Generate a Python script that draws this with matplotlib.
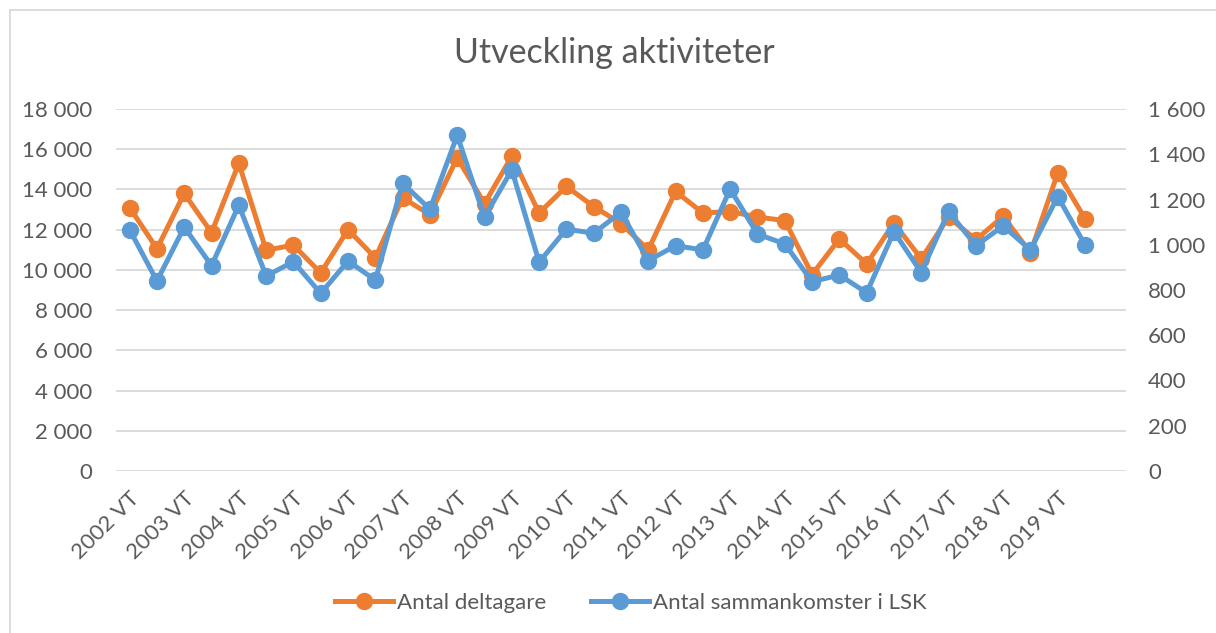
import matplotlib.pyplot as plt
from matplotlib.lines import Line2D
from matplotlib.ticker import FuncFormatter, MultipleLocator

plt.rcParams['font.family'] = ['Lato', 'DejaVu Sans']

years = list(range(2002, 2020))
terms = []
for y in years:
    terms.append(f"{y} VT")
    terms.append(f"{y} HT")

# Antal deltagare (vänster axel)
deltagare = [13100, 11050, 13800, 11850, 15300, 10980, 11230, 9850, 12000, 10600,
             13580, 12750, 15570, 13300, 15650, 12830, 14150, 13150, 12300, 11000,
             13900, 12830, 12900, 12630, 12450, 9770, 11540, 10300, 12330, 10550,
             12630, 11500, 12660, 10850, 14820, 12550]

# Antal sammankomster i LSK (höger axel)
sammankomster = [1066, 840, 1078, 908, 1175, 862, 925, 785, 928, 844,
                 1272, 1157, 1483, 1122, 1331, 923, 1069, 1051, 1144, 930,
                 996, 977, 1246, 1047, 1004, 837, 866, 788, 1058, 877,
                 1147, 996, 1083, 977, 1213, 999]

orange = '#ED7D31'
blue = '#5B9BD5'
textc = '#595959'
gridc = '#D9D9D9'

fig = plt.figure(figsize=(12.16, 6.33), dpi=100)
ax = fig.add_axes([116 / 1216, 1 - 471 / 633, 1010 / 1216, 362 / 633])
ax2 = ax.twinx()

x = range(len(terms))
l1, = ax.plot(x, deltagare, color=orange, lw=3.6, marker='o', ms=11.5,
              label='Antal deltagare', solid_joinstyle='round')
l2, = ax2.plot(x, sammankomster, color=blue, lw=3.6, marker='o', ms=11.5,
               label='Antal sammankomster i LSK', solid_joinstyle='round')

ax.set_xlim(-0.5, len(terms) + 0.5)
ax.set_ylim(0, 18000)
ax2.set_ylim(0, 1600)
ax.yaxis.set_major_locator(MultipleLocator(2000))
ax2.yaxis.set_major_locator(MultipleLocator(200))

fmt = FuncFormatter(lambda v, p: f"{int(v):,}".replace(",", " "))
ax.yaxis.set_major_formatter(fmt)
ax2.yaxis.set_major_formatter(fmt)

ax.set_xticks(list(x)[::2])
ax.set_xticklabels(terms[::2], rotation=45, ha='right', rotation_mode='anchor')

ax.grid(axis='y', color=gridc, lw=1.3)
ax.set_axisbelow(True)
for a in (ax, ax2):
    for s in a.spines.values():
        s.set_visible(False)
    a.tick_params(length=0, colors=textc, labelsize=16)
ax.tick_params(axis='y', pad=17)
ax2.tick_params(axis='y', pad=16)
ax.tick_params(axis='x', pad=12)

fig.suptitle('Utveckling aktiviteter', x=614 / 1216, y=1 - 53 / 633, va='center',
             fontsize=24.5, color=textc)

leg = fig.legend([l1, l2], [l1.get_label(), l2.get_label()], loc='center',
                 bbox_to_anchor=(631 / 1216, 1 - 603 / 633), ncol=2, frameon=False,
                 fontsize=16, handlelength=2.6, handletextpad=0.2, columnspacing=2.0)
for t in leg.get_texts():
    t.set_color(textc)

# ram runt diagrammet
fig.add_artist(Line2D([10 / 1216, 10 / 1216], [0, 1 - 10 / 633], color=gridc, lw=1.3))
fig.add_artist(Line2D([10 / 1216, 1], [1 - 10 / 633, 1 - 10 / 633], color=gridc, lw=1.3))

fig.savefig('out.png', dpi=100)
